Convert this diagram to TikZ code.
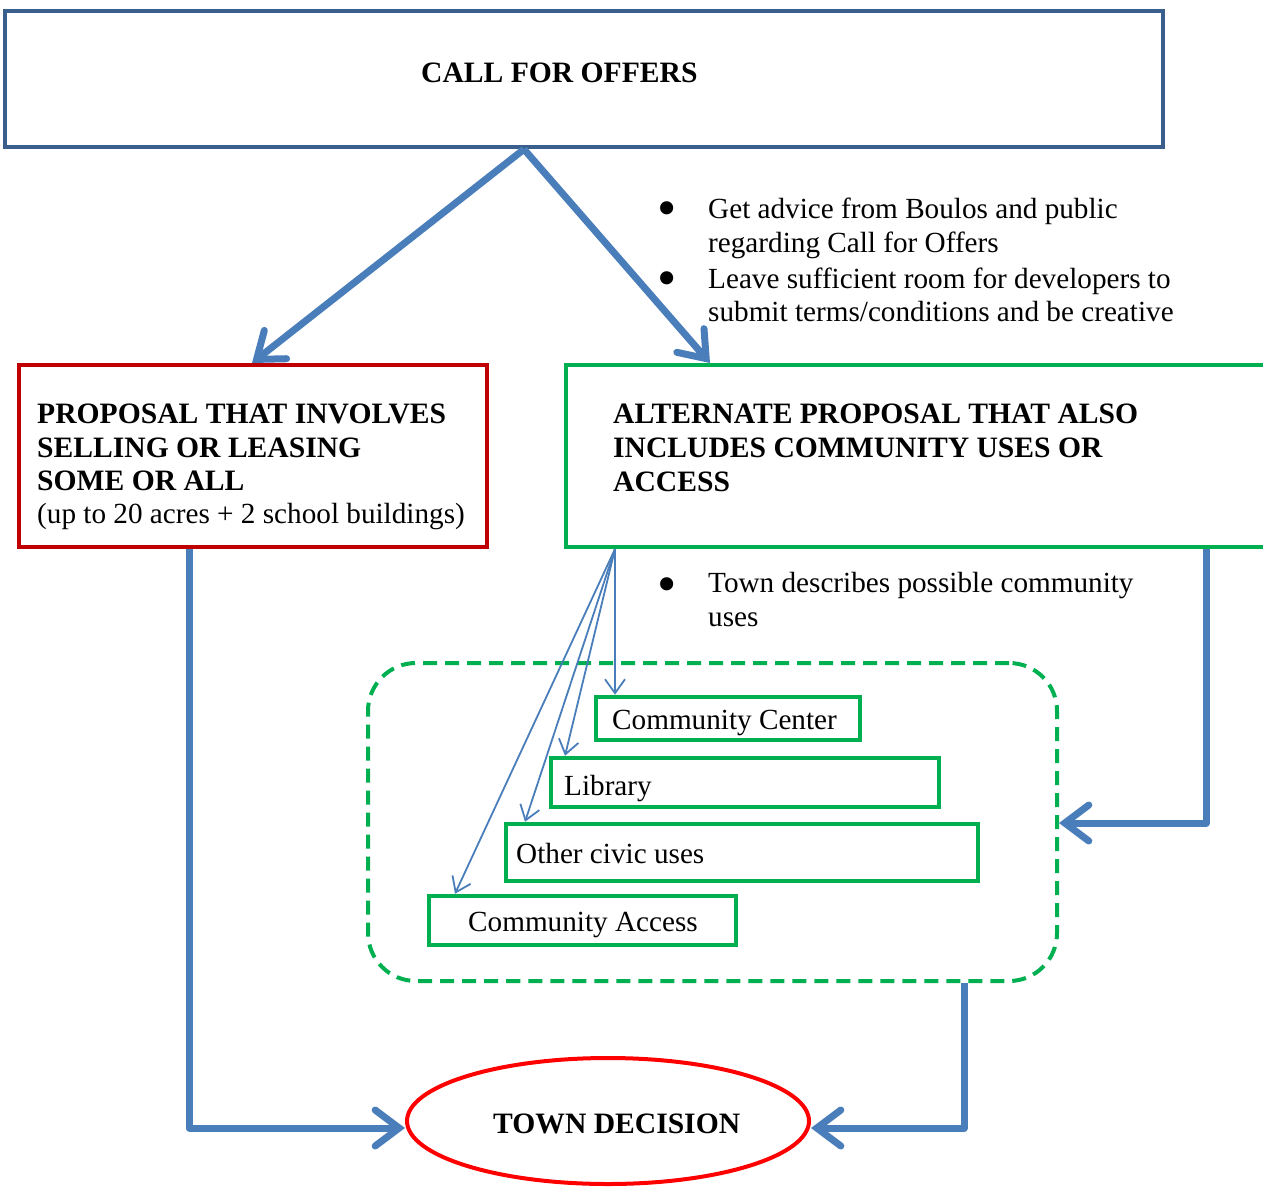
\documentclass[tikz,border=0pt]{standalone}
\usepackage{fontspec}
\setmainfont{Liberation Serif}
\usetikzlibrary{arrows.meta,shapes.geometric}
\definecolor{topblue}{HTML}{3A5F8C}
\definecolor{arrblue}{HTML}{4A7EBB}
\definecolor{boxred}{HTML}{C00000}
\definecolor{boxgreen}{HTML}{00B050}
\definecolor{ellred}{HTML}{FF0000}
\begin{document}
\begin{tikzpicture}[x=1pt,y=-1pt,
  txt/.style={font=\fontsize{29.2}{34}\selectfont, inner sep=0pt, anchor=base west},
  btxt/.style={font=\fontsize{29.6}{34}\selectfont\bfseries, inner sep=0pt, anchor=base west},
  bul/.style={font=\fontsize{55}{55}\selectfont, inner sep=0pt, anchor=base west},
  box/.style={draw, rectangle, inner sep=0pt, line width=4pt},
  bigarrow/.style={draw=arrblue, line width=7pt, line join=round,
    -{Straight Barb[length=24pt,width=36pt,line cap=round]}},
  thinarrow/.style={draw=arrblue, line width=1.8pt,
    -{Straight Barb[length=14pt,width=20pt]}}]
\useasboundingbox (0,0) rectangle (1263,1186);
% boxes
\node[box, draw=topblue, line width=4.5pt, minimum width=1158pt, minimum height=136pt] (call) at (584,79) {};
\node[box, draw=boxred, minimum width=468pt, minimum height=182pt] (red) at (253,456) {};
\node[box, draw=boxgreen, minimum width=709pt, minimum height=182pt] (green) at (920.5,456) {};
\node[box, draw=boxgreen, dashed, dash pattern=on 14pt off 8pt, rounded corners=48pt,
      minimum width=689pt, minimum height=318pt] (dash) at (712.5,822) {};
\node[box, draw=boxgreen, line width=4.5pt, minimum width=264pt, minimum height=43pt] (cc) at (728,718.5) {};
\node[box, draw=boxgreen, line width=4.5pt, minimum width=388pt, minimum height=49pt] (lib) at (745,782.5) {};
\node[box, draw=boxgreen, line width=4.5pt, minimum width=472pt, minimum height=57pt] (oc) at (742,852.5) {};
\node[box, draw=boxgreen, line width=4.5pt, minimum width=307pt, minimum height=49pt] (ca) at (582.5,920.5) {};
\node[draw=ellred, ellipse, line width=4pt, inner sep=0pt, minimum width=402pt, minimum height=126pt] (dec) at (608,1121) {};
% texts
\node[btxt] (tcall) at (421,82) {CALL FOR OFFERS};
\node[bul] (b1) at (657,226) {•};
\node[txt] (g1) at (708,218) {Get advice from Boulos and public};
\node[txt] (g2) at (708,252) {regarding Call for Offers};
\node[bul] (b2) at (657,296) {•};
\node[txt] (g3) at (708,288) {Leave sufficient room for developers to};
\node[txt] (g4) at (708,321) {submit terms/conditions and be creative};
\node[btxt] (r1) at (37,423) {PROPOSAL THAT INVOLVES};
\node[btxt] (r2) at (37,457) {SELLING OR LEASING};
\node[btxt] (r3) at (37,490) {SOME OR ALL};
\node[txt] (r4) at (37,523) {(up to 20 acres + 2 school buildings)};
\node[btxt] (a1) at (613,423) {ALTERNATE PROPOSAL THAT ALSO};
\node[btxt] (a2) at (613,457) {INCLUDES COMMUNITY USES OR};
\node[btxt] (a3) at (613,491) {ACCESS};
\node[bul] (b3) at (657,602) {•};
\node[txt] (u1) at (708,592) {Town describes possible community};
\node[txt] (u2) at (708,626) {uses};
\node[txt] (tcc) at (612,729) {Community Center};
\node[txt] (tlib) at (564,795) {Library};
\node[txt] (toc) at (516,863) {Other civic uses};
\node[txt] (tca) at (468,931) {Community Access};
\node[btxt] (tdec) at (493,1133) {TOWN DECISION};
% connectors
\draw[bigarrow] (call.south -| 524,0) -- (red.north -| 252,0);
\draw[bigarrow] (call.south -| 524,0) -- (green.north -| 710,0);
\draw[bigarrow] (red.south -| 189,0) |- ([yshift=-7pt]dec.west);
\draw[bigarrow] (green.south -| 1206,0) |- (dash.east |- 0,823);
\draw[bigarrow] (dash.south -| 964,0) |- ([yshift=-7pt]dec.east);
\draw[thinarrow] (green.south -| 615,0) -- (cc.north -| 615,0);
\draw[thinarrow] (green.south -| 615,0) -- (lib.north -| 565,0);
\draw[thinarrow] (green.south -| 615,0) -- (oc.north -| 525,0);
\draw[thinarrow] (green.south -| 615,0) -- (ca.north -| 455,0);
\end{tikzpicture}
\end{document}
